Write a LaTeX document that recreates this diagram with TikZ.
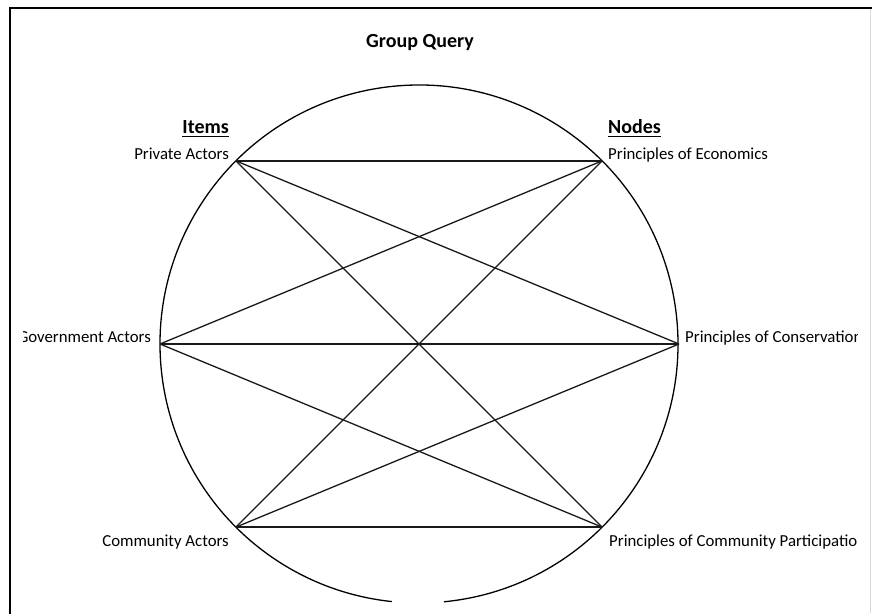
\documentclass[tikz,border=0pt]{standalone}
\usepackage{fontspec}
\setmainfont{Carlito}
\begin{document}
\begin{tikzpicture}[x=1pt,y=1pt,
  lbl/.style={inner sep=0pt, font=\fontsize{16.8}{20}\selectfont},
  hdr/.style={inner sep=0pt, font=\fontsize{20}{24}\selectfont\bfseries},
  link/.style={line width=1.3pt, black!90},
  rim/.style={line width=1.3pt, black},
  uline/.style={line width=1.4pt}]
\useasboundingbox (0,0) rectangle (872,613);
% frame
\draw[line width=1.6pt] (10,-2) -- (10,605) -- (874,605);
\draw[black!15, line width=1pt] (870,0) -- (870,604);
% circle
\coordinate (c) at (419,269);
\draw[rim] (c) ++(275.5:259pt) arc[start angle=275.5, end angle=624, radius=259pt];
% points on the circle
\path (c) ++(135:259pt) coordinate (pa);
\path (c) ++(180:259pt) coordinate (ga);
\path (c) ++(225:259pt) coordinate (ca);
\path (c) ++(45:259pt)  coordinate (pe);
\path (c) ++(0:260pt)   coordinate (pc);
\path (c) ++(315:259pt) coordinate (pp);
% connectors
\foreach \a in {pa,ga,ca}
  \foreach \b in {pe,pc,pp}
    \draw[link] (\a) -- (\b);
% headings
\node[hdr, anchor=base] (title) at (420,565) {Group Query};
\node[hdr, anchor=base east] (items) at (229,479) {Items};
\node[hdr, anchor=base west] (nodes) at (608,479) {Nodes};
\draw[uline] ([yshift=-2.5pt]items.base west) -- ([yshift=-2.5pt]items.base east);
\draw[uline] ([yshift=-2.5pt]nodes.base west) -- ([yshift=-2.5pt]nodes.base east);
% side labels (clipped like the reference)
\begin{scope}
\clip (23,0) rectangle (857,613);
\node[lbl, anchor=base east] (lpa) at (229,453) {Private Actors};
\node[lbl, anchor=base east] (lga) at (151,270) {Government Actors};
\node[lbl, anchor=base east] (lca) at (229,67) {Community Actors};
\node[lbl, anchor=base west] (lpe) at (608,453) {Principles of Economics};
\node[lbl, anchor=base west] (lpc) at (685,270) {Principles of Conservation};
\node[lbl, anchor=base west] (lpp) at (609,67) {Principles of Community Participation};
\end{scope}
\end{tikzpicture}
\end{document}
